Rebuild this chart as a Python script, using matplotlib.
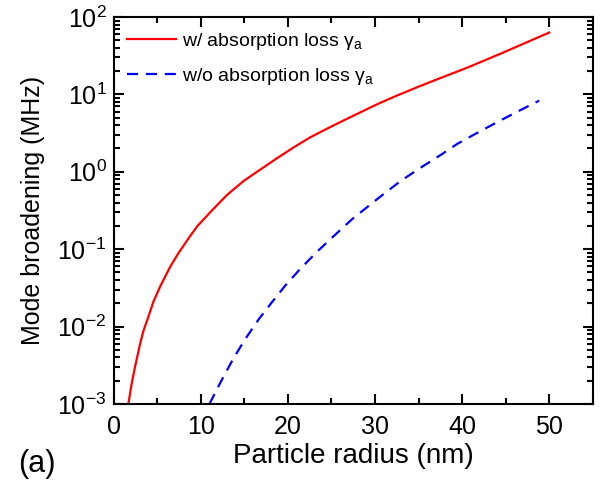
import matplotlib
matplotlib.use("Agg")
import matplotlib.pyplot as plt
from matplotlib.ticker import MultipleLocator, LogLocator, LogFormatterMathtext, NullFormatter

plt.rcParams['font.family'] = ['Liberation Sans', 'DejaVu Sans']
plt.rcParams['mathtext.fontset'] = 'custom'
plt.rcParams['mathtext.rm'] = 'Liberation Sans'
plt.rcParams['mathtext.it'] = 'Liberation Sans:italic'

# values
r_abs = [1.70, 2.09, 2.47, 3.05, 3.43, 4.0, 4.58, 5.34, 6.49, 7.45, 8.79,
         9.64, 11.09, 13.0, 14.92, 16.46, 18.76, 20.67, 22.59, 24.89,
         26.03, 30.06, 31.78, 32.93, 34.85, 36.76, 40.6, 44.4, 49.98]
g_abs = [1.0e-3, 1.85e-3, 3.03e-3, 6.0e-3, 8.8e-3, 0.0134, 0.021, 0.0328,
         0.059, 0.089, 0.148, 0.2, 0.3, 0.5, 0.76, 1.0, 1.5, 2.07, 2.8,
         3.8, 4.4, 7.3, 8.9, 10.1, 12.4, 15.1, 22.2, 33.6, 63.0]

r_sca = [11.0, 12.43, 13.77, 15.11, 16.65, 18.18, 19.71, 21.44, 23.36,
         25.46, 27.38, 30.63, 32.93, 35.23, 37.53, 39.45, 41.75, 44.05,
         46.34, 48.83]
g_sca = [1.0e-3, 2.06e-3, 3.9e-3, 6.9e-3, 0.0124, 0.0207, 0.034, 0.056,
         0.093, 0.155, 0.245, 0.48, 0.76, 1.13, 1.65, 2.3, 3.2, 4.4, 6.0, 8.3]

fig = plt.figure(figsize=(6.09, 4.83), dpi=100)
ax = fig.add_axes([0.1864, 0.1636, 0.7873, 0.8012])

ax.plot(r_abs, g_abs, color='red', lw=1.6, label='w/ absorption loss γ$_\\mathrm{a}$')
ax.plot(r_sca, g_sca, color='blue', lw=1.6, ls=(0, (5, 3.5)),
        label='w/o absorption loss γ$_\\mathrm{a}$')

ax.set_yscale('log')
ax.set_xlim(0, 55)
ax.set_ylim(1e-3, 1e2)
ax.xaxis.set_major_locator(MultipleLocator(10))
ax.xaxis.set_minor_locator(MultipleLocator(5))
ax.yaxis.set_major_locator(LogLocator(base=10, numticks=10))
ax.yaxis.set_minor_locator(LogLocator(base=10, subs=range(2, 10), numticks=20))
ax.yaxis.set_major_formatter(LogFormatterMathtext())
ax.yaxis.set_minor_formatter(NullFormatter())

for s in ax.spines.values():
    s.set_linewidth(1.5)
ax.tick_params(which='both', direction='in', top=True, right=True, width=1.5)
ax.tick_params(which='major', length=7, labelsize=18)
ax.tick_params(axis='x', which='major', pad=8)
ax.tick_params(axis='y', which='major', pad=5)
ax.tick_params(which='minor', length=4)

ax.set_xlabel('Particle radius (nm)', fontsize=20, labelpad=3)
ax.set_ylabel('Mode broadening (MHz)', fontsize=18, labelpad=9)

ax.legend(loc='upper left', frameon=False, fontsize=14, handlelength=2.5,
          handletextpad=0.3, labelspacing=0.75, borderaxespad=0.3,
          bbox_to_anchor=(0.0, 1.0))

fig.text(0.03, 0.022, '(a)', fontsize=22)

fig.savefig('out.png', dpi=100)
